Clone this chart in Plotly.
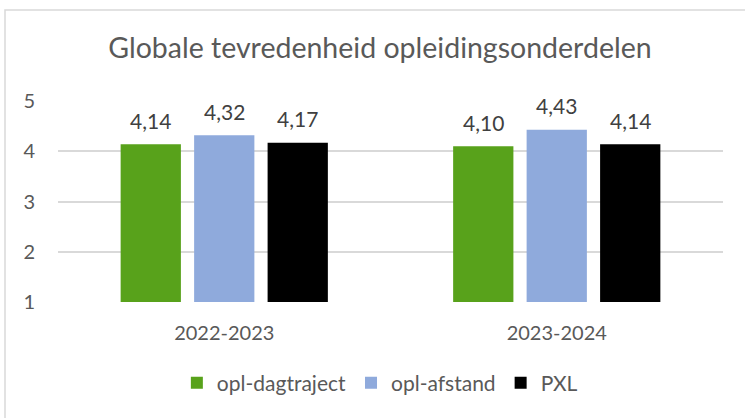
import plotly.graph_objects as go

categories = ["2022-2023", "2023-2024"]
series_names = ["opl-dagtraject", "opl-afstand", "PXL"]
opl_dagtraject = [4.14, 4.10]
opl_afstand = [4.32, 4.43]
pxl = [4.17, 4.14]
colors = ["#58A21B", "#8FAADC", "#000000"]
y_ticks = [1, 2, 3, 4, 5]

FONT = "Lato, 'Open Sans', sans-serif"
BARGAP = 0.337
fig = go.Figure()
all_series = [opl_dagtraject, opl_afstand, pxl]
for name, vals, col in zip(series_names, all_series, colors):
    fig.add_trace(go.Bar(
        x=categories, y=vals, name=name, marker_color=col, marker_line_width=0,
    ))

annotations = []
slot = (1 - BARGAP) / len(all_series)
for k, vals in enumerate(all_series):
    for i, v in enumerate(vals):
        annotations.append(dict(
            x=i + (k - 1) * slot, y=v, xref="x", yref="y",
            text=f"{v:.2f}".replace(".", ","), showarrow=False,
            yanchor="middle", yshift=24,
            font=dict(size=21, color="#404040", family=FONT),
        ))

fig.update_layout(
    width=745, height=418,
    margin=dict(l=58, r=22, t=101, b=116),
    paper_bgcolor="white", plot_bgcolor="white",
    barmode="group", bargap=BARGAP, bargroupgap=0.18,
    title=dict(text="Globale tevredenheid opleidingsonderdelen", x=0.51, xanchor="center",
               y=0.885, yanchor="middle", font=dict(size=28.5, color="#595959", family=FONT)),
    font=dict(family=FONT, color="#595959", size=20),
    xaxis=dict(showline=False, ticks="", tickfont=dict(size=20, color="#595959"),
               ticklabelstandoff=17),
    yaxis=dict(range=[1, 5], tickvals=y_ticks, showgrid=True, gridcolor="#D9D9D9", gridwidth=1.5,
               zeroline=False, showline=False, tickfont=dict(size=20, color="#595959"), ticklen=0,
               ticklabelstandoff=22),
    legend=dict(orientation="h", x=0.484, xanchor="center", y=-0.403, yanchor="middle",
                font=dict(size=21, color="#595959"), traceorder="normal"),
    showlegend=True,
    annotations=annotations,
    shapes=[dict(type="rect", xref="paper", yref="paper", x0=-0.0797, x1=1.06, y0=-0.7, y1=1.4527,
                 line=dict(color="#D9D9D9", width=1.5), fillcolor="rgba(0,0,0,0)", layer="below")],
)
fig.write_html("out.html", config={"displayModeBar": False},
               post_script="document.body.style.margin='0';")
